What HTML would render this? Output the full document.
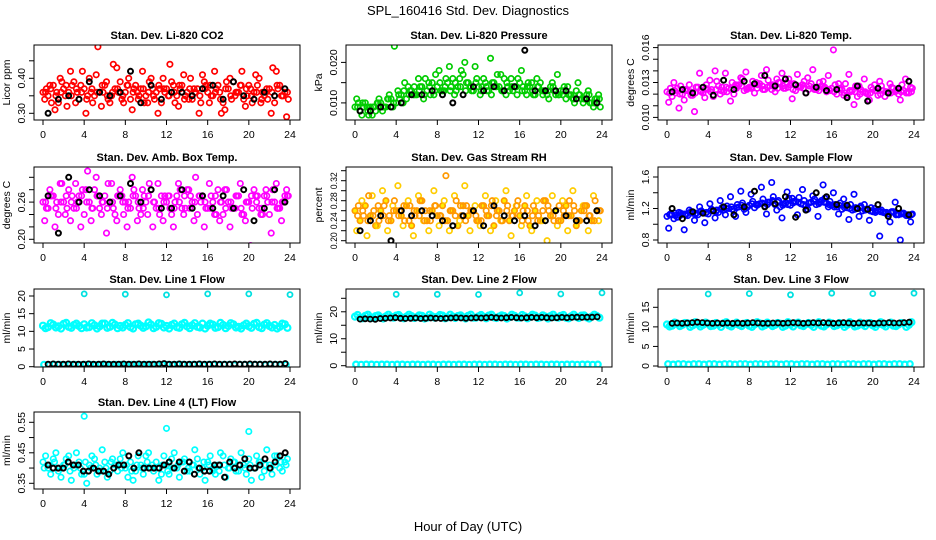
<!DOCTYPE html>
<html><head><meta charset="utf-8"><style>
body{margin:0;background:#fff}
svg{display:block;font-family:"Liberation Sans",sans-serif}
</style></head><body>
<svg id="chart" width="936" height="540" viewBox="0 0 936 540" xmlns="http://www.w3.org/2000/svg">
<rect width="936" height="540" fill="#fff"/>
<text x="468" y="15" text-anchor="middle" font-size="13">SPL_160416  Std. Dev. Diagnostics</text>
<text x="468" y="531" text-anchor="middle" font-size="13">Hour of Day (UTC)</text>
</svg>
<script>
const xTicks=[0,4,8,12,16,20,24];
// CO2
const co2A=[0.36,0.35,0.38,0.33,0.37,0.36,0.39,0.34,0.37,0.40,0.35,0.36,0.38,0.33,0.37,0.39,0.36,0.34,0.38,0.37,0.35,0.40,0.36,0.33,0.37,0.39,0.35,0.38,0.36,0.34,0.37,0.41,0.36,0.35,0.38,0.33,0.37,0.39,0.36,0.34,0.38,0.36,0.40,0.35,0.37,0.33,0.38,0.36];
const co2B=[0.34,0.38,0.31,0.40,0.35,0.42,0.33,0.38,0.30,0.36,0.41,0.32,0.39,0.35,0.43,0.34,0.38,0.31,0.36,0.42,0.33,0.37,0.30,0.40,0.35,0.38,0.32,0.41,0.34,0.37,0.30,0.39,0.33,0.42,0.36,0.31,0.40,0.35,0.38,0.32,0.37,0.41,0.33,0.36,0.30,0.42,0.35,0.29];
const co2C=[0.37,0.33,0.36,0.39,0.32,0.38,0.36,0.42,0.35,0.33,0.49,0.36,0.34,0.44,0.36,0.33,0.40,0.37,0.35,0.33,0.39,0.34,0.37,0.36,0.44,0.33,0.37,0.35,0.40,0.36,0.33,0.38,0.35,0.37,0.30,0.39,0.34,0.36,0.42,0.35,0.33,0.38,0.36,0.34,0.43,0.37,0.35,0.34];
const co2D=[0.36,0.37,0.35,0.36,0.38,0.35,0.37,0.36,0.34,0.37,0.36,0.38,0.35,0.36,0.37,0.35,0.38,0.36,0.34,0.37,0.36,0.35,0.38,0.37,0.35,0.36,0.38,0.34,0.37,0.36,0.35,0.37,0.38,0.36,0.34,0.37,0.35,0.36,0.38,0.37,0.35,0.36,0.34,0.37,0.36,0.38,0.35,0.36];
const co2K=[0.30,0.34,0.35,0.34,0.39,0.36,0.35,0.36,0.42,0.33,0.38,0.34,0.36,0.36,0.35,0.37,0.38,0.34,0.39,0.35,0.34,0.36,0.35,0.37];
// Pressure
const prA=[0.009,0.008,0.010,0.009,0.008,0.010,0.009,0.011,0.010,0.012,0.011,0.013,0.012,0.014,0.013,0.015,0.014,0.013,0.015,0.016,0.014,0.017,0.015,0.013,0.014,0.016,0.013,0.015,0.014,0.016,0.013,0.014,0.015,0.013,0.014,0.012,0.015,0.013,0.014,0.012,0.013,0.011,0.012,0.013,0.011,0.012,0.010,0.011];
const prB=[0.011,0.007,0.009,0.007,0.010,0.008,0.011,0.009,0.013,0.010,0.014,0.012,0.016,0.011,0.015,0.012,0.018,0.013,0.019,0.012,0.016,0.020,0.014,0.019,0.012,0.015,0.021,0.014,0.017,0.012,0.016,0.014,0.018,0.012,0.015,0.016,0.013,0.012,0.015,0.017,0.012,0.014,0.011,0.015,0.010,0.013,0.009,0.012];
const prC=[0.010,0.009,0.007,0.009,0.011,0.009,0.012,0.024,0.011,0.015,0.013,0.012,0.014,0.016,0.012,0.017,0.013,0.016,0.014,0.013,0.018,0.015,0.013,0.016,0.014,0.013,0.015,0.017,0.013,0.014,0.013,0.016,0.014,0.015,0.012,0.014,0.013,0.011,0.013,0.012,0.014,0.012,0.010,0.012,0.011,0.010,0.011,0.009];
const prD=[0.009,0.010,0.008,0.009,0.010,0.009,0.011,0.010,0.012,0.013,0.012,0.014,0.013,0.012,0.014,0.013,0.015,0.014,0.013,0.015,0.014,0.013,0.014,0.015,0.013,0.014,0.012,0.014,0.013,0.015,0.014,0.012,0.013,0.014,0.013,0.014,0.012,0.013,0.014,0.012,0.013,0.012,0.011,0.012,0.011,0.012,0.010,0.011];
const prK=[0.008,0.008,0.009,0.009,0.010,0.012,0.012,0.013,0.012,0.010,0.012,0.014,0.013,0.014,0.013,0.014,0.023,0.013,0.013,0.013,0.013,0.011,0.011,0.010];
// Li-820 temp
const tpA=[0.0122,0.0118,0.0125,0.0120,0.0123,0.0119,0.0126,0.0121,0.0124,0.0118,0.0127,0.0122,0.0125,0.0120,0.0128,0.0123,0.0126,0.0121,0.0129,0.0124,0.0127,0.0122,0.0130,0.0125,0.0128,0.0123,0.0126,0.0121,0.0129,0.0124,0.0127,0.0122,0.0125,0.0120,0.0124,0.0119,0.0123,0.0118,0.0122,0.0120,0.0124,0.0119,0.0123,0.0121,0.0125,0.0120,0.0123,0.0121];
const tpB=[0.0113,0.0130,0.0108,0.0115,0.0128,0.0105,0.0138,0.0117,0.0132,0.0140,0.0120,0.0138,0.0114,0.0128,0.0134,0.0139,0.0125,0.0130,0.0136,0.0141,0.0124,0.0133,0.0138,0.0130,0.0116,0.0137,0.0128,0.0134,0.0141,0.0126,0.0131,0.0136,0.0158,0.0129,0.0119,0.0137,0.0111,0.0127,0.0133,0.0115,0.0128,0.0131,0.0118,0.0129,0.0122,0.0115,0.0133,0.0126];
const tpC=[0.0125,0.0121,0.0127,0.0123,0.0119,0.0126,0.0122,0.0128,0.0124,0.0131,0.0126,0.0122,0.0130,0.0127,0.0133,0.0125,0.0131,0.0128,0.0124,0.0132,0.0127,0.0130,0.0125,0.0133,0.0129,0.0126,0.0131,0.0127,0.0124,0.0130,0.0126,0.0123,0.0128,0.0125,0.0129,0.0122,0.0127,0.0124,0.0121,0.0126,0.0123,0.0127,0.0122,0.0126,0.0124,0.0128,0.0122,0.0125];
const tpD=[0.0121,0.0123,0.0120,0.0124,0.0122,0.0121,0.0123,0.0125,0.0122,0.0124,0.0123,0.0126,0.0124,0.0125,0.0127,0.0124,0.0126,0.0125,0.0127,0.0126,0.0128,0.0125,0.0127,0.0126,0.0124,0.0127,0.0125,0.0124,0.0126,0.0123,0.0125,0.0124,0.0122,0.0124,0.0121,0.0123,0.0122,0.0120,0.0122,0.0121,0.0123,0.0120,0.0122,0.0121,0.0123,0.0122,0.0121,0.0122];
const tpK=[0.0122,0.0124,0.0121,0.0126,0.0119,0.0132,0.0124,0.0131,0.0129,0.0136,0.0127,0.0133,0.0128,0.0121,0.0126,0.0123,0.0124,0.0117,0.0127,0.0114,0.0125,0.0121,0.0125,0.0131];
// Amb box temp
const abA=[0.26,0.25,0.27,0.24,0.26,0.28,0.25,0.27,0.24,0.26,0.28,0.25,0.27,0.26,0.24,0.28,0.26,0.25,0.27,0.24,0.26,0.28,0.25,0.27,0.26,0.24,0.27,0.25,0.28,0.26,0.24,0.27,0.25,0.26,0.28,0.24,0.26,0.25,0.27,0.24,0.26,0.28,0.25,0.27,0.24,0.26,0.25,0.27];
const abB=[0.23,0.28,0.22,0.29,0.24,0.23,0.29,0.22,0.28,0.23,0.30,0.24,0.21,0.29,0.23,0.27,0.22,0.30,0.23,0.28,0.24,0.22,0.29,0.23,0.27,0.22,0.29,0.24,0.28,0.23,0.27,0.22,0.29,0.24,0.23,0.28,0.22,0.25,0.29,0.23,0.19,0.27,0.24,0.28,0.21,0.29,0.23,0.28];
const abC=[0.25,0.27,0.26,0.29,0.25,0.27,0.26,0.28,0.31,0.25,0.27,0.26,0.29,0.25,0.27,0.24,0.26,0.28,0.25,0.27,0.29,0.26,0.24,0.27,0.25,0.26,0.28,0.25,0.27,0.30,0.26,0.25,0.27,0.24,0.26,0.28,0.25,0.27,0.24,0.26,0.25,0.27,0.24,0.26,0.28,0.25,0.26,0.27];
const abD=[0.26,0.27,0.25,0.26,0.27,0.26,0.25,0.27,0.26,0.25,0.27,0.26,0.25,0.26,0.27,0.26,0.25,0.27,0.26,0.25,0.27,0.26,0.25,0.26,0.27,0.25,0.26,0.27,0.25,0.26,0.27,0.26,0.25,0.27,0.26,0.25,0.26,0.27,0.25,0.26,0.27,0.26,0.25,0.27,0.26,0.25,0.26,0.27];
const abK=[0.27,0.21,0.30,0.26,0.28,0.27,0.26,0.27,0.29,0.26,0.28,0.25,0.25,0.28,0.25,0.27,0.25,0.27,0.25,0.28,0.23,0.25,0.28,0.26];
// Gas stream RH
const rhA=[0.26,0.24,0.27,0.25,0.23,0.26,0.28,0.24,0.26,0.25,0.27,0.23,0.26,0.28,0.24,0.26,0.25,0.27,0.24,0.26,0.23,0.27,0.25,0.26,0.24,0.27,0.25,0.23,0.26,0.28,0.24,0.26,0.25,0.27,0.23,0.26,0.24,0.28,0.25,0.26,0.24,0.27,0.25,0.23,0.26,0.27,0.24,0.26];
const rhB=[0.22,0.28,0.21,0.29,0.23,0.30,0.22,0.27,0.31,0.23,0.28,0.21,0.29,0.24,0.22,0.30,0.23,0.28,0.22,0.29,0.24,0.31,0.22,0.27,0.23,0.29,0.22,0.28,0.24,0.30,0.21,0.27,0.23,0.29,0.22,0.28,0.24,0.20,0.29,0.23,0.28,0.22,0.30,0.24,0.27,0.22,0.29,0.24];
const rhC=[0.27,0.25,0.29,0.26,0.24,0.27,0.25,0.28,0.26,0.24,0.27,0.25,0.28,0.26,0.24,0.27,0.25,0.33,0.26,0.28,0.25,0.27,0.26,0.24,0.27,0.25,0.28,0.26,0.24,0.27,0.25,0.28,0.26,0.24,0.27,0.25,0.28,0.26,0.24,0.27,0.25,0.28,0.26,0.24,0.27,0.25,0.28,0.26];
const rhD=[0.25,0.26,0.24,0.25,0.27,0.25,0.24,0.26,0.25,0.27,0.24,0.26,0.25,0.24,0.26,0.27,0.25,0.24,0.26,0.25,0.27,0.24,0.26,0.25,0.24,0.26,0.27,0.25,0.24,0.26,0.25,0.27,0.24,0.26,0.25,0.24,0.26,0.27,0.25,0.24,0.26,0.25,0.27,0.24,0.26,0.25,0.24,0.26];
const rhK=[0.22,0.24,0.25,0.20,0.26,0.25,0.26,0.25,0.24,0.23,0.25,0.26,0.23,0.27,0.25,0.24,0.25,0.23,0.24,0.26,0.25,0.24,0.24,0.26];
// Sample flow
const sfA=[1.10,1.12,1.09,1.13,1.11,1.14,1.12,1.15,1.13,1.17,1.15,1.18,1.20,1.17,1.22,1.19,1.24,1.21,1.26,1.23,1.28,1.25,1.22,1.27,1.24,1.29,1.26,1.23,1.28,1.25,1.30,1.27,1.24,1.22,1.19,1.21,1.18,1.20,1.17,1.19,1.16,1.18,1.15,1.13,1.16,1.12,1.14,1.11];
const sfB=[0.95,1.07,1.15,0.93,1.18,1.05,1.22,1.02,1.26,1.08,1.30,1.12,1.35,1.10,1.42,1.15,1.38,1.25,1.47,1.13,1.53,1.18,1.08,1.41,1.33,1.12,1.44,1.19,1.36,1.10,1.50,1.22,1.40,1.13,1.32,1.06,1.38,1.10,1.25,1.05,1.20,0.85,1.15,1.03,1.28,0.80,1.12,1.03];
const sfC=[1.13,1.11,1.14,1.12,1.16,1.14,1.17,1.15,1.19,1.18,1.21,1.23,1.19,1.25,1.27,1.22,1.29,1.25,1.32,1.28,1.35,1.30,1.26,1.33,1.29,1.34,1.30,1.27,1.32,1.28,1.33,1.29,1.25,1.27,1.23,1.25,1.21,1.23,1.19,1.21,1.17,1.18,1.15,1.16,1.13,1.14,1.12,1.13];
const sfD=[1.12,1.14,1.11,1.13,1.15,1.13,1.16,1.14,1.17,1.16,1.19,1.20,1.22,1.21,1.24,1.22,1.26,1.24,1.27,1.25,1.30,1.28,1.24,1.25,1.27,1.28,1.25,1.27,1.29,1.26,1.28,1.25,1.22,1.24,1.21,1.20,1.19,1.21,1.18,1.17,1.15,1.16,1.14,1.15,1.12,1.13,1.11,1.12];
const sfK=[1.20,1.07,1.16,1.14,1.17,1.22,1.12,1.22,1.42,1.22,1.26,1.35,1.09,1.18,1.40,1.35,1.25,1.24,1.20,1.19,1.25,1.10,1.20,1.12];
// Line 1 flow
const l1A=[11.6,11.2,11.9,11.4,12.1,11.3,11.8,11.5,12.0,11.2,11.7,11.4,12.2,11.3,11.9,11.5,11.8,11.2,12.0,11.6,11.4,11.9,11.3,12.1,11.5,11.8,11.2,12.0,11.4,11.7,11.3,12.2,11.6,11.9,11.2,11.8,11.5,12.0,11.3,11.7,11.4,12.1,11.2,11.9,11.5,11.8,11.3,12.0];
const l1B=[10.9,12.3,11.1,10.8,12.4,11.0,12.2,10.9,11.1,12.3,10.8,12.2,11.0,12.4,10.9,11.1,12.3,10.8,12.2,11.0,12.5,10.9,12.3,11.1,10.8,12.2,11.0,12.4,10.9,12.3,11.1,10.8,12.2,11.0,12.4,10.9,12.3,11.1,10.8,12.2,11.0,12.4,10.9,12.3,11.1,10.8,12.2,11.0];
const l1Low=[0.6,0.5,0.6,0.6,0.5,0.6,0.6,0.5,0.6,0.6,0.5,0.6,0.6,0.5,0.6,0.6,0.5,0.6,0.6,0.5,0.6,0.6,0.5,0.6,0.6,0.5,0.6,0.6,0.5,0.6,0.6,0.5,0.6,0.6,0.5,0.6,0.6,0.5,0.6,0.6,0.5,0.6,0.6,0.5,0.6,0.6,0.5,0.6];
const l1K=[0.7,0.8,0.7,0.7,0.8,0.7,0.7,0.7,0.8,0.7,0.7,0.8,0.7,0.7,0.7,0.8,0.7,0.7,0.8,0.7,0.7,0.7,0.8,0.9,0.7,0.7,0.8,0.7,0.7,0.7,0.8,0.7,0.7,0.8,0.7,0.7,0.7,0.8,0.7,0.7,0.8,0.7,0.7,0.7,0.8,0.7,0.7,0.9];
const l1Out=[20.6,20.5,20.3,20.6,20.6,20.4];
const outX=[4,8,12,16,20,24];
// Line 2 flow
const l2A=[18.2,17.8,18.5,18.0,18.4,17.9,18.3,18.1,18.6,17.9,18.2,18.4,18.0,18.5,17.8,18.3,18.1,18.6,17.9,18.2,18.4,18.0,18.5,17.8,18.3,18.1,18.6,17.9,18.2,18.4,18.0,18.5,17.8,18.3,18.1,18.6,17.9,18.2,18.4,18.0,18.5,17.8,18.3,18.1,18.6,17.9,18.2,18.4];
const l2B=[18.8,17.6,18.9,17.7,18.7,17.5,18.9,17.8,18.8,17.6,18.9,17.7,18.7,17.5,18.9,17.8,18.8,17.6,18.9,17.7,18.7,17.5,18.9,17.8,18.8,17.6,18.9,17.7,18.7,17.5,18.9,17.8,18.8,17.6,18.9,17.7,18.7,17.5,18.9,17.8,18.8,17.6,18.9,17.7,18.7,17.5,18.9,17.8];
const l2Low=[0.5,0.4,0.5,0.5,0.4,0.5,0.5,0.4,0.5,0.5,0.4,0.5,0.5,0.4,0.5,0.5,0.4,0.5,0.5,0.4,0.5,0.5,0.4,0.5,0.5,0.4,0.5,0.5,0.4,0.5,0.5,0.4,0.5,0.5,0.4,0.5,0.5,0.4,0.5,0.5,0.4,0.5,0.5,0.4,0.5,0.5,0.4,0.5];
const l2K=[17.3,17.4,17.3,17.2,17.5,17.6,17.7,17.8,17.6,17.5,17.6,17.7,17.5,17.6,17.7,17.6,17.5,17.6,17.7,17.8,17.7,17.6,17.7,17.8,17.7,17.8,17.9,17.8,17.7,17.8,17.9,17.8,17.7,17.8,17.9,17.8,17.9,17.8,17.7,17.8,17.9,17.8,17.9,18.0,17.9,18.0,18.0,18.1];
const l2Out=[26.5,26.5,26.4,27.0,26.6,27.0];
// Line 3 flow
const l3A=[10.6,10.3,10.8,10.5,10.9,10.4,10.7,10.5,10.8,10.3,10.6,10.9,10.4,10.7,10.5,10.8,10.3,10.6,10.9,10.4,10.7,10.5,10.8,10.3,10.6,10.9,10.4,10.7,10.5,10.8,10.3,10.6,10.9,10.4,10.7,10.5,10.8,10.3,10.6,10.9,10.4,10.7,10.5,10.8,10.3,10.6,10.9,10.5];
const l3B=[10.1,11.1,10.2,11.0,10.0,11.2,10.1,11.1,10.2,11.0,10.0,11.2,10.1,11.1,10.2,11.0,10.0,11.2,10.1,11.1,10.2,11.0,10.0,11.2,10.1,11.1,10.2,11.0,10.0,11.2,10.1,11.1,10.2,11.0,10.0,11.2,10.1,11.1,10.2,11.0,10.0,11.2,10.1,11.1,10.2,11.0,10.0,11.2];
const l3Low=[0.5,0.4,0.5,0.5,0.4,0.5,0.5,0.4,0.5,0.5,0.4,0.5,0.5,0.4,0.5,0.5,0.4,0.5,0.5,0.4,0.5,0.5,0.4,0.5,0.5,0.4,0.5,0.5,0.4,0.5,0.5,0.4,0.5,0.5,0.4,0.5,0.5,0.4,0.5,0.5,0.4,0.5,0.5,0.4,0.5,0.5,0.4,0.5];
const l3K=[10.9,11.0,10.9,11.0,11.1,11.2,11.1,11.0,10.9,11.0,10.9,11.0,10.9,11.0,10.9,11.0,11.1,11.0,10.9,10.9,11.0,11.0,10.9,11.0,11.1,11.0,10.9,11.0,11.1,11.0,11.1,11.0,10.9,11.0,11.1,11.0,10.9,11.0,11.0,11.0,10.9,11.0,11.0,11.1,11.0,11.0,11.1,11.2];
const l3Out=[18.4,18.5,18.2,18.6,18.5,18.6];
// Line 4 flow
const l4A=[0.42,0.40,0.43,0.39,0.41,0.44,0.40,0.42,0.38,0.41,0.43,0.40,0.42,0.39,0.41,0.43,0.40,0.42,0.39,0.41,0.44,0.40,0.42,0.38,0.41,0.43,0.40,0.42,0.39,0.41,0.43,0.40,0.42,0.39,0.41,0.44,0.40,0.42,0.39,0.41,0.43,0.40,0.42,0.39,0.41,0.44,0.40,0.42];
const l4B=[0.44,0.38,0.45,0.37,0.43,0.36,0.45,0.38,0.35,0.44,0.38,0.46,0.37,0.43,0.39,0.45,0.37,0.36,0.44,0.38,0.45,0.39,0.36,0.44,0.38,0.45,0.37,0.43,0.39,0.46,0.38,0.36,0.44,0.38,0.45,0.37,0.43,0.39,0.45,0.38,0.36,0.44,0.37,0.46,0.38,0.44,0.39,0.43];
const l4D=[0.40,0.41,0.42,0.40,0.41,0.39,0.41,0.40,0.42,0.40,0.41,0.39,0.40,0.42,0.41,0.40,0.41,0.39,0.41,0.40,0.42,0.41,0.40,0.41,0.39,0.40,0.41,0.42,0.40,0.41,0.40,0.42,0.41,0.40,0.39,0.41,0.40,0.42,0.41,0.40,0.41,0.40,0.42,0.41,0.40,0.41,0.42,0.41];
const l4K=[0.41,0.40,0.40,0.40,0.42,0.41,0.41,0.39,0.39,0.40,0.39,0.39,0.38,0.40,0.41,0.41,0.44,0.40,0.45,0.40,0.40,0.40,0.40,0.41,0.42,0.40,0.42,0.39,0.42,0.38,0.40,0.39,0.39,0.41,0.41,0.37,0.42,0.40,0.41,0.43,0.40,0.40,0.41,0.43,0.40,0.42,0.44,0.45];
const l4OutX=[4,12,20];
const l4Out=[0.57,0.53,0.52];

const NS='http://www.w3.org/2000/svg';
const svg=document.getElementById('chart');
function el(tag,attrs,parent){const e=document.createElementNS(NS,tag);for(const k in attrs)e.setAttribute(k,attrs[k]);(parent||svg).appendChild(e);return e;}

function panel(cfg){
  const g=el('g',{});
  
  
  const bx=cfg.box[0],by=cfg.box[1],bw=cfg.box[2],bh=cfg.box[3];
  const xs=h=>bx+9+h*(bw-19)/24;
  const k=(cfg.ref[3]-cfg.ref[1])/(cfg.ref[2]-cfg.ref[0]);
  const ys=v=>cfg.ref[1]+(v-cfg.ref[0])*k;
  const clip='c'+cfg.name;
  const cp=el('clipPath',{id:clip},g);el('rect',{x:bx,y:by,width:bw,height:bh},cp);
  const pts=el('g',{'clip-path':'url(#'+clip+')'},g);
  
  
  cfg.series.forEach(s=>{
    s.vals.forEach((v,i)=>{
      const x=s.xs?s.xs[i]:(s.x0+i*s.dx);
      const c=el('circle',{cx:xs(x).toFixed(1),cy:ys(v).toFixed(1),r:s.r||2.7,fill:s.fill||'none',stroke:s.col,'stroke-width':s.sw||1.7},pts);
      
      
    });
  });
  const fr=el('rect',{x:bx,y:by,width:bw,height:bh,fill:'none',stroke:'#000','stroke-width':1},g);
  
  
  const t=el('text',{x:bx+bw/2,y:by-6,'text-anchor':'middle','font-size':11,'font-weight':'bold'},g);
  t.textContent=cfg.title;
  
  
  xTicks.forEach(h=>{
    el('line',{x1:xs(h),x2:xs(h),y1:by+bh,y2:by+bh+5,stroke:'#000'},g);
    const l=el('text',{x:xs(h),y:by+bh+18,'text-anchor':'middle','font-size':10.5},g);
    l.textContent=h;
    
    
  });
  cfg.yticks.forEach(v=>{
    el('line',{x1:bx-5,x2:bx,y1:ys(v),y2:ys(v),stroke:'#000'},g);
  });
  cfg.ylabels.forEach((lab,i)=>{
    const y=ys(cfg.ylabelVals[i]);
    const attrs={x:0,y:0,'text-anchor':'middle','font-size':cfg.lfs||10.5,transform:'translate('+(bx-9)+','+y+') rotate(-90)'};
    if(cfg.ltl){attrs.textLength=cfg.ltl;attrs.lengthAdjust='spacingAndGlyphs';}
    const l=el('text',attrs,g);
    l.textContent=lab;
    
    
  });
  const yl=el('text',{x:0,y:0,'text-anchor':'middle','font-size':10.5,transform:'translate('+(bx-24)+','+(by+bh/2)+') rotate(-90)'},g);
  yl.textContent=cfg.ylab;
  
  
}
function four(a,b,c,d,k,col){
  return [{vals:a,x0:0,dx:0.5,col:col,nm:'point'},{vals:b,x0:0.17,dx:0.5,col:col,nm:'point'},{vals:c,x0:0.33,dx:0.5,col:col,nm:'point'},{vals:d,x0:0.25,dx:0.5,col:col,nm:'point'},{vals:k,x0:0.5,dx:1,col:'#000',sw:2,r:2.5,nm:'black-point'}];
}
const R1=[45,75],R2=[167,76],R3=[289,78],R4=[412,77];
const C=[34,346,658];
panel({name:'panel-co2',title:'Stan. Dev. Li-820 CO2',ylab:'Licor ppm',box:[C[0],R1[0],266,R1[1]],ref:[0.30,113.3,0.40,78.3],yticks:[0.30,0.35,0.40,0.45],ylabels:['0.30','0.40'],ylabelVals:[0.30,0.40],series:four(co2A,co2B,co2C,co2D,co2K,'#ff0000')});
panel({name:'panel-pressure',title:'Stan. Dev. Li-820 Pressure',ylab:'kPa',box:[C[1],R1[0],266,R1[1]],ref:[0.010,102.9,0.020,62.4],yticks:[0.010,0.015,0.020],ylabels:['0.010','0.020'],ylabelVals:[0.010,0.020],series:four(prA,prB,prC,prD,prK,'#00cc00')});
panel({name:'panel-temp',title:'Stan. Dev. Li-820 Temp.',ylab:'degrees C',box:[C[2],R1[0],266,R1[1]],ref:[0.010,117.4,0.016,47.6],yticks:[0.010,0.011,0.012,0.013,0.014,0.015,0.016],ylabels:['0.010','0.013','0.016'],ylabelVals:[0.010,0.013,0.016],series:four(tpA,tpB,tpC,tpD,tpK,'#ff00ff')});
panel({name:'panel-amb-temp',title:'Stan. Dev. Amb. Box Temp.',ylab:'degrees C',box:[C[0],R2[0],266,R2[1]],ref:[0.20,239.3,0.30,177.3],yticks:[0.20,0.22,0.24,0.26,0.28,0.30],ylabels:['0.20','0.26'],ylabelVals:[0.20,0.26],series:four(abA,abB,abC,abD,abK,'#ff00ff')});
const rhS=four(rhA,rhB,rhC,rhD,rhK,'#ff9900');rhS[1].col='#ffcc00';rhS[0].fill='#ffee00';
panel({name:'panel-rh',title:'Stan. Dev. Gas Stream RH',ylab:'percent',box:[C[1],R2[0],266,R2[1]],ref:[0.20,240.7,0.32,180.7],yticks:[0.20,0.22,0.24,0.26,0.28,0.30,0.32,0.34],ylabels:['0.20','0.24','0.28','0.32'],ylabelVals:[0.20,0.24,0.28,0.32],lfs:9,ltl:17,series:rhS});
panel({name:'panel-sample-flow',title:'Stan. Dev. Sample Flow',ylab:'ml/min',box:[C[2],R2[0],266,R2[1]],ref:[0.8,240,1.6,177],yticks:[0.8,1.0,1.2,1.4,1.6],ylabels:['0.8','1.2','1.6'],ylabelVals:[0.8,1.2,1.6],series:four(sfA,sfB,sfC,sfD,sfK,'#0000ff')});
function flow(a,b,low,k,out){
  return [{vals:a,x0:0,dx:0.5,col:'#00ffff',sw:2.2,r:3,nm:'point'},{vals:b,x0:0.25,dx:0.5,col:'#00ffff',sw:2.2,r:3,nm:'point'},{vals:low,x0:0.1,dx:0.5,col:'#00ffff',sw:2.2,r:2.8,nm:'point'},{vals:k,x0:0.5,dx:0.49,col:'#000',sw:1.8,r:2.5,nm:'black-point'},{vals:out,xs:outX,col:'#00e0e0',sw:1.8,r:2.5,nm:'outlier-point'}];
}
panel({name:'panel-line1',title:'Stan. Dev. Line 1 Flow',ylab:'ml/min',box:[C[0],R3[0],266,R3[1]],ref:[0,366.7,20,296],yticks:[0,5,10,15,20],ylabels:['0','5','10','15','20'],ylabelVals:[0,5,10,15,20],series:flow(l1A,l1B,l1Low,l1K,l1Out)});
panel({name:'panel-line2',title:'Stan. Dev. Line 2 Flow',ylab:'ml/min',box:[C[1],R3[0],266,R3[1]],ref:[0,365.7,25,298.3],yticks:[0,5,10,15,20,25],ylabels:['0','10','20'],ylabelVals:[0,10,20],series:flow(l2A,l2B,l2Low,l2K,l2Out)});
panel({name:'panel-line3',title:'Stan. Dev. Line 3 Flow',ylab:'ml/min',box:[C[2],R3[0],266,R3[1]],ref:[0,366,15,307.3],yticks:[0,5,10,15],ylabels:['0','5','10','15'],ylabelVals:[0,5,10,15],series:flow(l3A,l3B,l3Low,l3K,l3Out)});
panel({name:'panel-line4',title:'Stan. Dev. Line 4 (LT) Flow',ylab:'ml/min',box:[C[0],R4[0],266,R4[1]],ref:[0.35,483.3,0.55,422.3],yticks:[0.35,0.40,0.45,0.50,0.55],ylabels:['0.35','0.45','0.55'],ylabelVals:[0.35,0.45,0.55],series:[{vals:l4A,x0:0,dx:0.5,col:'#00ffff',nm:'point'},{vals:l4B,x0:0.25,dx:0.5,col:'#00ffff',nm:'point'},{vals:l4D,x0:0.12,dx:0.5,col:'#00ffff',nm:'point'},{vals:l4Out,xs:l4OutX,col:'#00ffff',nm:'outlier-point'},{vals:l4K,x0:0.5,dx:0.49,col:'#000',sw:2,r:2.5,nm:'black-point'}]});
</script>
</body></html>
